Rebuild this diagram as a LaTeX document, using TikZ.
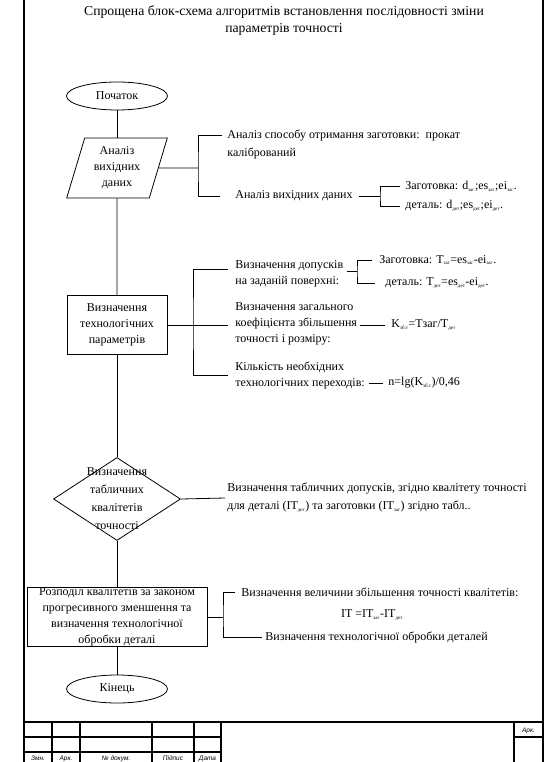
\documentclass[tikz,border=0pt]{standalone}
\usepackage{fontspec}
\setmainfont{Liberation Serif}
\setsansfont{Liberation Sans}
\usetikzlibrary{shapes.geometric}
\newcommand{\sbs}[1]{\textsubscript{\fontsize{5}{5}\selectfont #1}}

\begin{document}
\begin{tikzpicture}[x=1pt,y=-1pt,line width=0.8pt,
    every node/.append style={font=\fontsize{12}{16}\selectfont},
    termin/.style={draw,ellipse,minimum width=101pt,minimum height=28pt,inner sep=0pt},
    vvid/.style={draw,trapezium,trapezium left angle=73,trapezium right angle=107,
        trapezium stretches=true,minimum width=101pt,minimum height=60pt,inner sep=0pt,align=center},
    blok/.style={draw,rectangle,inner sep=0pt,align=center},
    umova/.style={draw,diamond,minimum width=127pt,minimum height=83pt,inner sep=0pt},
    opys/.style={anchor=west,align=left,inner sep=0pt},
    shtamp/.style={font=\sffamily\itshape\fontsize{6.5}{7}\selectfont,inner sep=0pt,anchor=base},
    ramka/.style={line width=1.5pt},
    sitka/.style={line width=1.1pt}]
    \useasboundingbox (0,0) rectangle (552,762);

    % Рамка
    \draw[ramka] (24,0) -- (24,762);
    \draw[ramka] (543,0) -- (543,762);

    % Назва
    \node[align=center,font=\fontsize{13.7}{17}\selectfont] (nazva) at (284,20.5)
        {Спрощена блок-схема алгоритмів встановлення послідовності зміни\\параметрів точності};

    % Блоки
    \node[termin] (pochatok) at (117,96) {Початок};
    \node[vvid] (analiz) at (117,168) {Аналіз\\вихідних\\даних};
    \node[blok,minimum width=100pt,minimum height=59pt] (param) at (117,325)
        {Визначення\\технологічних\\параметрів};
    \node[umova,label={[align=center,font=\fontsize{12}{18}\selectfont]center:{Визначення\\табличних\\квалітетів\\точності}}]
        (tabl) at (117,499) {};
    \node[blok,minimum width=180pt,minimum height=59pt] (rozpodil) at (117,617)
        {Розподіл квалітетів за законом\\прогресивного зменшення та\\визначення технологічної\\обробки деталі};
    \node[termin] (kinets) at (117,689) {Кінець};

    \draw (pochatok) -- (analiz);
    \draw (analiz) -- (param);
    \draw (param) -- (tabl);
    \draw (tabl) -- (rozpodil);
    \draw (rozpodil) -- (kinets);

    % Аналіз вихідних даних
    \node[opys,font=\fontsize{12}{18}\selectfont] (sposib) at (227,144)
        {Аналіз способу отримання заготовки:\ \ прокат\\калібрований};
    \node[opys] (vykhdani) at (235,196) {Аналіз вихідних даних};
    \coordinate (k1) at (198,168);
    \draw (analiz.east) -- (k1);
    \draw ([xshift=-5pt,yshift=9pt]sposib.west) -| (k1) |- ([xshift=-15pt]vykhdani.west);

    \node[opys] (zagot1) at (405,186) {Заготовка: d\sbs{заг};es\sbs{заг};ei\sbs{заг}.};
    \node[opys] (detal1) at (405,206) {деталь: d\sbs{дет};es\sbs{дет};ei\sbs{дет}.};
    \coordinate (k2) at (380,196);
    \draw ([xshift=6pt]vykhdani.east) -- (k2);
    \draw ([xshift=-5pt]zagot1.west) -| (k2) |- ([xshift=-5pt]detal1.west);

    % Технологічні параметри
    \node[opys] (dopusk) at (235,274) {Визначення допусків\\на заданій поверхні:};
    \node[opys] (zagal) at (235,324) {Визначення загального\\коефіцієнта збільшення\\точності і розміру:};
    \node[opys] (kilkist) at (235,375) {Кількість необхідних\\технологічних переходів:};
    \coordinate (k3) at (193,325);
    \draw (param.east) -- ([xshift=-7pt]param.east -| zagal.west);
    \draw ([xshift=-7pt,yshift=4.5pt]dopusk.west) -| (k3) |- ([xshift=-7pt]kilkist.west);

    \node[opys] (zagot2) at (379,260) {Заготовка: T\sbs{заг}=es\sbs{заг}-ei\sbs{заг}.};
    \node[opys] (detal2) at (385,283) {деталь: T\sbs{дет}=es\sbs{дет}-ei\sbs{дет}.};
    \coordinate (k4) at (357,271);
    \draw ([xshift=3pt]dopusk.east |- k4) -- (k4);
    \draw ([xshift=-7pt]zagot2.west) -| (k4) |- ([xshift=-10pt]detal2.west);

    \node[opys] (koef) at (391,325) {K\sbs{зб.т}=Tзаг/T\sbs{дет}};
    \draw ([xshift=3pt]zagal.east |- koef.west) -- ([xshift=-6pt]koef.west);
    \node[opys] (perekhody) at (388,383) {n=lg(K\sbs{зб.т})/0,46};
    \draw ([xshift=4pt]kilkist.east |- perekhody.west) -- ([xshift=-5pt]perekhody.west);

    % Табличні квалітети
    \node[opys,font=\fontsize{12}{18}\selectfont] (tablopys) at (227,498)
        {Визначення табличних допусків, згідно квалітету точності\\для деталі (IT\sbs{дет}) та заготовки (IT\sbs{заг}) згідно табл..};
    \draw (tabl.east) -- ([xshift=-2pt]tablopys.west);

    % Розподіл квалітетів
    \node[opys] (velych) at (241,592) {Визначення величини збільшення точності квалітетів:};
    \node (itform) at (372,615) {IT =IT\sbs{заг}-IT\sbs{дет}};
    \node[opys] (tekhobr) at (265,637) {Визначення технологічної обробки деталей};
    \coordinate (k5) at (223,617);
    \draw (rozpodil.east) -- (k5);
    \draw ([xshift=-6pt]velych.west) -| (k5) |- ([xshift=-3pt]tekhobr.west);

    % Штамп
    \draw[sitka] (24,722) -- (543,722);
    \draw[sitka] (24,737) -- (221,737);
    \draw[sitka] (24,752) -- (221,752);
    \foreach \x in {52,80,152,194,221}
        \draw[sitka] (\x,722) -- (\x,762);
    \draw[sitka] (514,722) -- (514,762);
    \draw[sitka] (514,737) -- (543,737);
    \foreach \x/\t [count=\i] in {38/Змн.,66/Арк.,116/№ докум.,173/Підпис,207.5/Дата}
        \node[shtamp] (pidpys\i) at (\x,760) {\t};
    \node[shtamp] (ark) at (528.5,732) {Арк.};
\end{tikzpicture}
\end{document}
